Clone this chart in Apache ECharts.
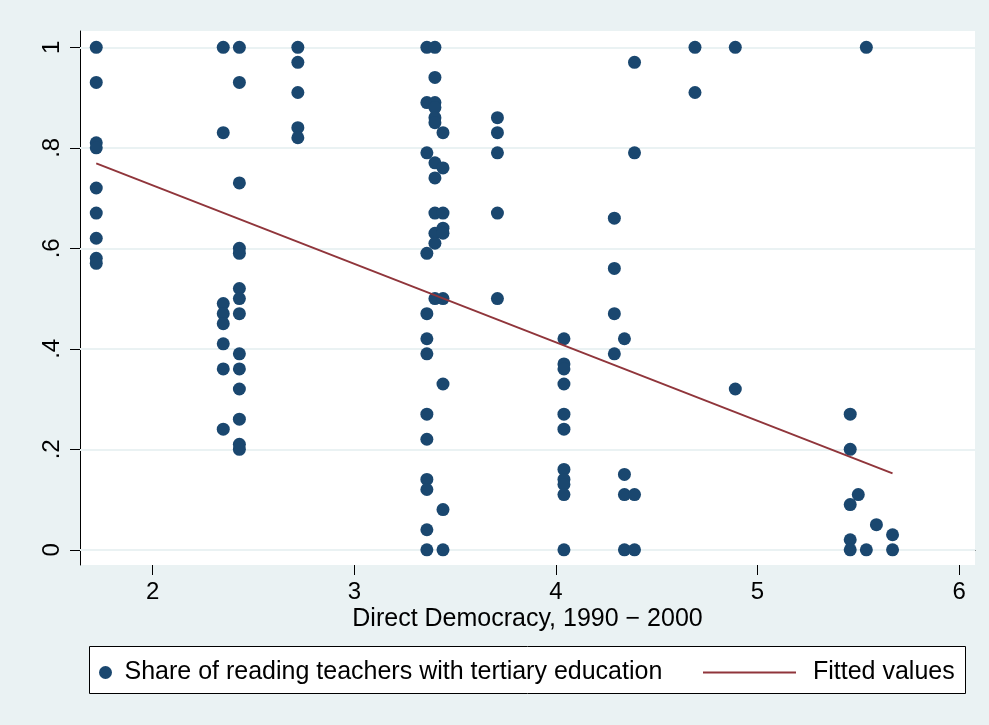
<!DOCTYPE html>
<html lang="en">
<head>
  <meta charset="UTF-8">
  <title>Direct Democracy and Teacher Education</title>
  <script src="https://cdn.jsdelivr.net/npm/echarts@6/dist/echarts.min.js"></script>
  <style>
    html, body { margin: 0; padding: 0; background: #eaf2f3; }
    #chart { width: 989px; height: 725px; }
  </style>
</head>
<body>
<div id="chart"></div>
<script>
  // x values (direct democracy index), one per observation
  const democracy = [
    1.72, 1.72, 1.72, 1.72, 1.72, 1.72, 1.72, 1.72, 1.72,
    2.35, 2.35, 2.35, 2.35, 2.35, 2.35, 2.35, 2.35,
    2.43, 2.43, 2.43, 2.43, 2.43, 2.43, 2.43, 2.43, 2.43, 2.43, 2.43, 2.43, 2.43, 2.43,
    2.72, 2.72, 2.72, 2.72, 2.72,
    3.36, 3.36, 3.36, 3.36, 3.36, 3.36, 3.36, 3.36, 3.36, 3.36, 3.36, 3.36, 3.36,
    3.40, 3.40, 3.40, 3.40, 3.40, 3.40, 3.40, 3.40, 3.40, 3.40, 3.40, 3.40,
    3.44, 3.44, 3.44, 3.44, 3.44, 3.44, 3.44, 3.44, 3.44,
    3.71, 3.71, 3.71, 3.71, 3.71,
    4.04, 4.04, 4.04, 4.04, 4.04, 4.04, 4.04, 4.04, 4.04, 4.04, 4.04,
    4.29, 4.29, 4.29, 4.29,
    4.34, 4.34, 4.34, 4.34,
    4.39, 4.39, 4.39, 4.39,
    4.69, 4.69,
    4.89, 4.89,
    5.54,
    5.46, 5.46, 5.46, 5.46, 5.46,
    5.50, 5.54, 5.59,
    5.67, 5.67
  ];
  // y values (share of reading teachers with tertiary education)
  const tertiaryShare = [
    1, 0.93, 0.81, 0.80, 0.72, 0.67, 0.62, 0.58, 0.57,
    1, 0.83, 0.49, 0.47, 0.45, 0.41, 0.36, 0.24,
    1, 0.93, 0.73, 0.60, 0.59, 0.52, 0.50, 0.47, 0.39, 0.36, 0.32, 0.26, 0.21, 0.20,
    1, 0.97, 0.91, 0.84, 0.82,
    1, 0.89, 0.79, 0.59, 0.47, 0.42, 0.39, 0.27, 0.22, 0.14, 0.12, 0.04, 0,
    1, 0.94, 0.89, 0.88, 0.86, 0.85, 0.77, 0.74, 0.67, 0.63, 0.61, 0.50,
    0.83, 0.76, 0.67, 0.64, 0.63, 0.50, 0.33, 0.08, 0,
    0.86, 0.83, 0.79, 0.67, 0.50,
    0.42, 0.37, 0.36, 0.33, 0.27, 0.24, 0.16, 0.14, 0.13, 0.11, 0,
    0.66, 0.56, 0.47, 0.39,
    0.42, 0.15, 0.11, 0,
    0.97, 0.79, 0.11, 0,
    1, 0.91,
    1, 0.32,
    1,
    0.27, 0.20, 0.09, 0.02, 0,
    0.11, 0, 0.05,
    0.03, 0
  ];
  // fitted regression line, read at its two ends
  const fitX = [1.72, 5.67];
  const fitY = [0.769, 0.152];

  const xTicks = [2, 3, 4, 5, 6];
  const yTickLabels = ['0', '.2', '.4', '.6', '.8', '1'];

  const scatterName = 'Share of reading teachers with tertiary education';
  const lineName = 'Fitted values';

  const navy = '#1a476f';
  const maroon = '#90353b';
  const bluishGray = '#eaf2f3';
  const font = "'Liberation Sans', Arial, Helvetica, sans-serif";

  const points = democracy.map((x, i) => [x, tertiaryShare[i]]);
  const fitted = fitX.map((x, i) => [x, fitY[i]]);

  const chart = echarts.init(document.getElementById('chart'));
  chart.setOption({
    animation: false,
    backgroundColor: bluishGray,
    textStyle: { fontFamily: font },
    grid: [
      // plot region with the data
      { left: 80, top: 31, width: 895, height: 534, show: true, backgroundColor: '#fff', borderWidth: 0 },
      // y ticks / gridlines, spans value 0..1
      { left: 80, top: 47.3, width: 895, height: 502.5 },
      // x ticks, spans value 2..6
      { left: 152.7, top: 31, width: 806.4, height: 534 }
    ],
    xAxis: [
      {
        gridIndex: 0, type: 'value', min: 1.6394, max: 6.079,
        axisLine: { show: true, lineStyle: { color: '#000', width: 1 } },
        axisTick: { show: false }, axisLabel: { show: false }, splitLine: { show: false },
        name: 'Direct Democracy, 1990 \u2212 2000', nameLocation: 'middle', nameGap: 42,
        nameTextStyle: { color: '#000', fontSize: 25, fontFamily: font }
      },
      { gridIndex: 1, type: 'value', min: 0, max: 1, show: false },
      {
        gridIndex: 2, type: 'value', min: xTicks[0], max: xTicks[xTicks.length - 1], interval: 1,
        axisLine: { show: false },
        axisTick: { show: true, length: 10, lineStyle: { color: '#000', width: 1 } },
        axisLabel: { color: '#000', fontSize: 24, margin: 15, fontFamily: font },
        splitLine: { show: false }
      }
    ],
    yAxis: [
      {
        gridIndex: 0, type: 'value', min: -0.0302, max: 1.0324,
        axisLine: { show: true, lineStyle: { color: '#000', width: 1 } },
        axisTick: { show: false }, axisLabel: { show: false }, splitLine: { show: false }
      },
      {
        gridIndex: 1, type: 'value', min: 0, max: 1, interval: 0.2, z: 1,
        axisLine: { show: false },
        axisTick: { show: true, length: 10, lineStyle: { color: '#000', width: 1 } },
        axisLabel: {
          color: '#000', fontSize: 24, margin: 16, rotate: 90, fontFamily: font,
          formatter: v => yTickLabels[Math.round(v * 5)]
        },
        splitLine: { show: true, lineStyle: { color: bluishGray, width: 2 } }
      },
      { gridIndex: 2, type: 'value', min: 0, max: 1, show: false }
    ],
    graphic: [{
      type: 'rect',
      shape: { x: 89.5, y: 646.5, width: 876, height: 47 },
      style: { fill: '#fff', stroke: '#000', lineWidth: 1 },
      z: 0
    }],
    legend: [
      {
        data: [scatterName], left: 99, top: 660, padding: 0,
        icon: 'circle', itemWidth: 28, itemHeight: 13, selectedMode: false,
        textStyle: { color: '#000', fontSize: 25, fontFamily: font }
      },
      {
        data: [lineName], left: 703, top: 660, padding: 0,
        icon: 'path://M0,0 H93 V2 H0 Z', itemWidth: 117, itemHeight: 2, selectedMode: false,
        itemStyle: { color: maroon },
        textStyle: { color: '#000', fontSize: 25, fontFamily: font }
      }
    ],
    series: [
      {
        name: scatterName, type: 'scatter', xAxisIndex: 0, yAxisIndex: 0,
        symbolSize: 13, itemStyle: { color: navy, opacity: 1 },
        data: points
      },
      {
        name: lineName, type: 'line', xAxisIndex: 0, yAxisIndex: 0,
        symbol: 'none', color: maroon,
        lineStyle: { color: maroon, width: 2 },
        data: fitted
      }
    ]
  });
</script>
</body>
</html>
